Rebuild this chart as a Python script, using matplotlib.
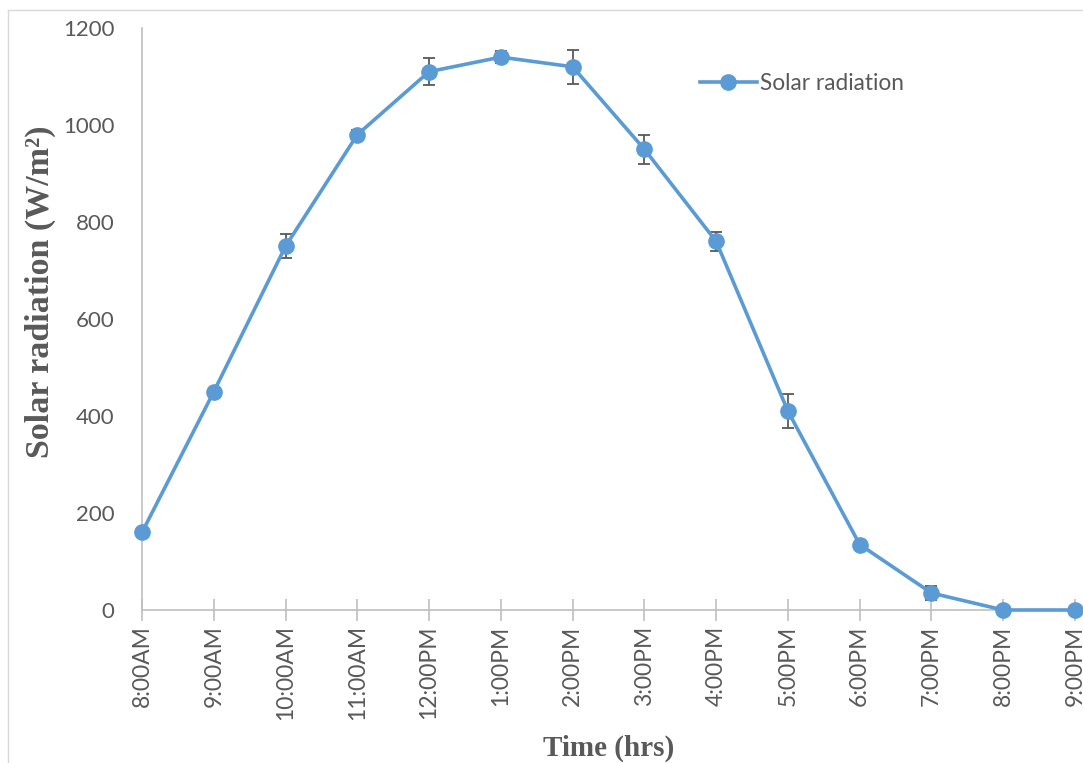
import matplotlib.pyplot as plt
from matplotlib.lines import Line2D

# hourly solar radiation readings (W/m2) with error bars
times = ["8:00AM", "9:00AM", "10:00AM", "11:00AM", "12:00PM", "1:00PM", "2:00PM",
         "3:00PM", "4:00PM", "5:00PM", "6:00PM", "7:00PM", "8:00PM", "9:00PM"]
radiation = [160, 450, 750, 980, 1110, 1140, 1120, 950, 760, 410, 135, 35, 0, 0]
errors = [8, 8, 25, 10, 28, 13, 35, 30, 20, 35, 5, 15, 0, 0]

blue = "#5B9BD5"
grey_txt = "#595959"
grey_ax = "#BFBFBF"

fig = plt.figure(figsize=(10.83, 7.63), dpi=100)
ax = fig.add_axes([142 / 1083, 1 - 610 / 763, 1 - 142 / 1083, (610 - 28) / 763])

x = list(range(len(times)))
ax.errorbar(x, radiation, yerr=errors, fmt="none", ecolor=grey_txt,
            elinewidth=1.3, capsize=4, capthick=1.3, zorder=2, clip_on=False)
ax.plot(x, radiation, color=blue, lw=2.6, marker="o", ms=11,
        label="Solar radiation", zorder=3, clip_on=False)

ax.set_ylim(0, 1200)
ax.set_xlim(0, 13 + 8 / 71.85)
ax.set_yticks(range(0, 1201, 200))
ax.set_xticks(x)
ax.set_xticklabels(times, rotation=90)

for s in ["top", "right"]:
    ax.spines[s].set_visible(False)
for s in ["left", "bottom"]:
    ax.spines[s].set_color(grey_ax)
    ax.spines[s].set_linewidth(1.2)

ax.tick_params(axis="x", direction="inout", length=16, width=1.2, color=grey_ax,
               labelsize=16.5, labelcolor=grey_txt, pad=3)
ax.tick_params(axis="y", length=0, labelsize=16, labelcolor=grey_txt, pad=20)
for lab in ax.get_xticklabels() + ax.get_yticklabels():
    lab.set_fontfamily("Lato")

fig.text(40 / 1083, 1 - 292 / 763, "Solar radiation (W/m²)", rotation=90,
         ha="center", va="center", fontsize=24.5, fontweight="bold",
         family="Liberation Serif", color=grey_txt)
fig.text(609 / 1083, 1 - 748 / 763, "Time (hrs)", ha="center", va="center",
         fontsize=21, fontweight="bold", family="Liberation Serif", color=grey_txt)

ax.legend(loc="center left", bbox_to_anchor=(700 / 1083, 1 - 83 / 763),
          bbox_transform=fig.transFigure, frameon=False, handlelength=2.5,
          handletextpad=0.15, borderpad=0, borderaxespad=0,
          prop={"family": "Lato", "size": 16.3}, labelcolor=grey_txt)

# light frame around the chart area
fig.add_artist(Line2D([8 / 1083, 8 / 1083], [0, 1 - 10 / 763], color="#D9D9D9", lw=1))
fig.add_artist(Line2D([8 / 1083, 1], [1 - 10 / 763, 1 - 10 / 763], color="#D9D9D9", lw=1))

fig.savefig("out.png", dpi=100)
